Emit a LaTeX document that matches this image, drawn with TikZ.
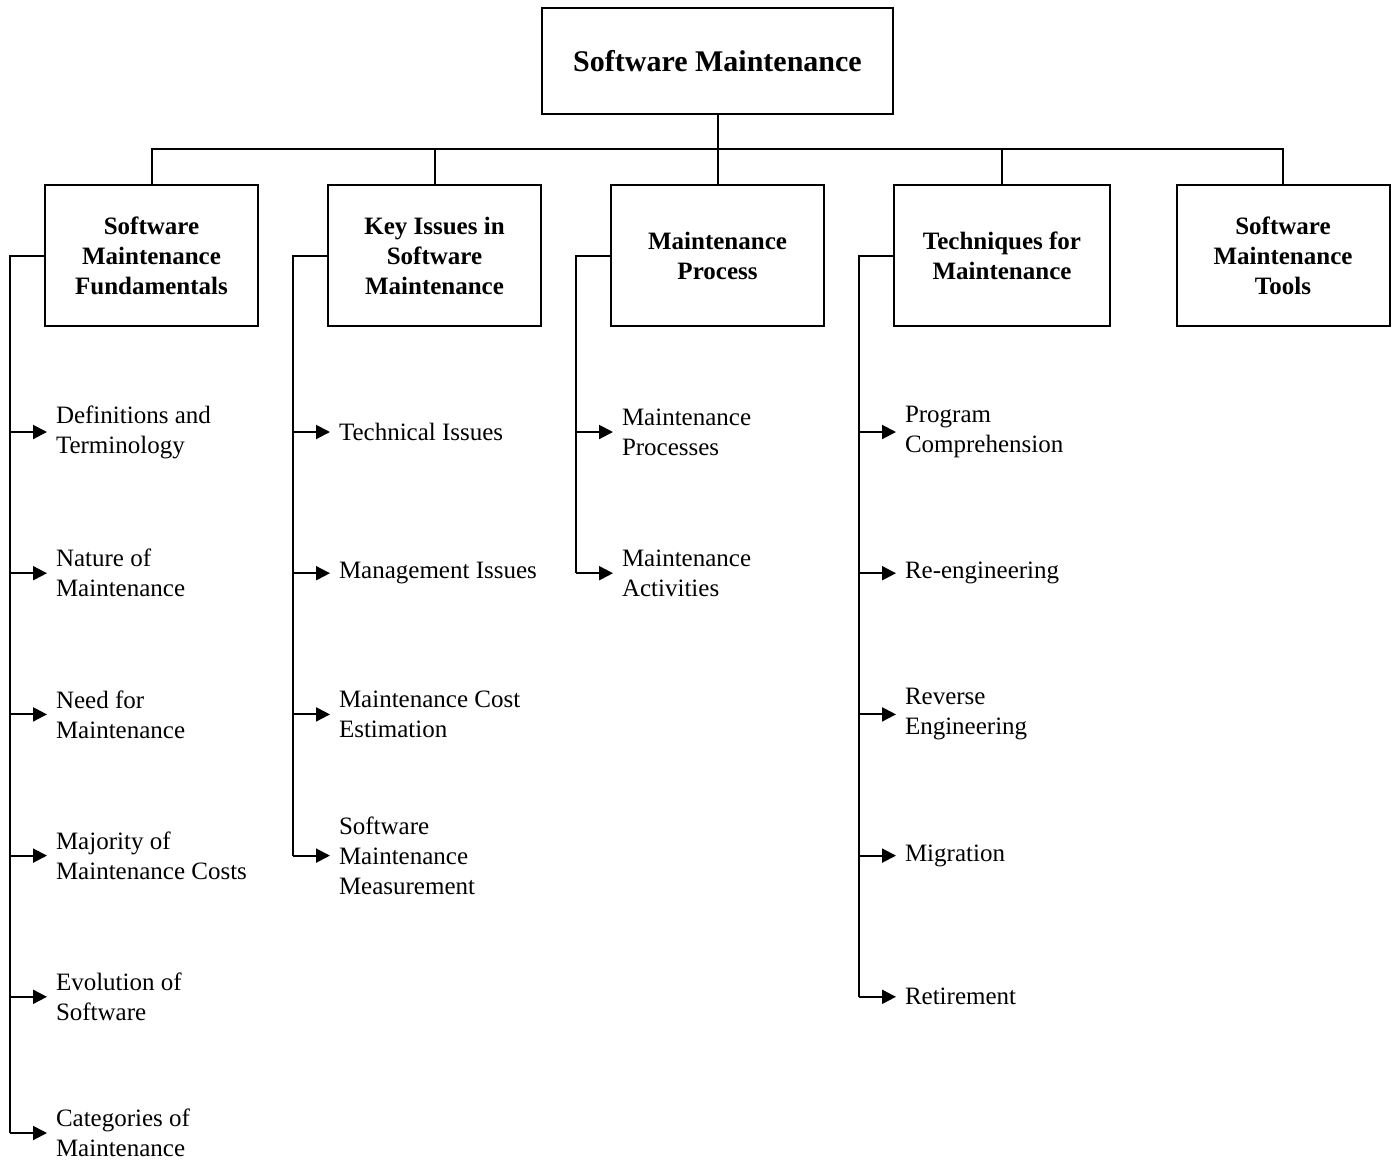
\documentclass[tikz,border=0pt]{standalone}
\usepackage{fontspec}
\setmainfont{Liberation Serif}
\usetikzlibrary{arrows.meta, positioning}

\begin{document}
\begin{tikzpicture}[x=0.5pt, y=-0.5pt, line width=1pt,
    topic/.style={draw, minimum width=106.5pt, minimum height=70.5pt, align=center,
      font=\fontsize{12.5}{15}\selectfont\bfseries},
    item/.style={anchor=west, inner xsep=4pt, inner ysep=0pt, align=left,
      font=\fontsize{12.5}{15}\selectfont},
    arr/.style={-{Triangle[length=7pt, width=7pt]}}]
  \useasboundingbox (0,0) rectangle (1395,1162);

  % Root and the five topics
  \node[topic, minimum width=175.5pt, minimum height=53pt,
    font=\fontsize{15}{18}\selectfont\bfseries] (sm) at (717.5,61) {Software Maintenance};
  \node[topic] (fund) at (151.5,255.5) {Software\\Maintenance\\Fundamentals};
  \node[topic] (key) at (434.5,255.5) {Key Issues in\\Software\\Maintenance};
  \node[topic] (proc) at (717.5,255.5) {Maintenance\\Process};
  \node[topic, minimum width=108pt] (tech) at (1002,255.5) {Techniques for\\Maintenance};
  \node[topic] (tools) at (1283,255.5) {Software\\Maintenance\\Tools};

  % Bus from the root down to the topics
  \coordinate (bus) at (717.5,149);
  \draw (sm.south) -- (bus);
  \draw (fund.north) -- (fund.north |- bus) -- (tools.north |- bus) -- (tools.north);
  \foreach \b in {key, proc, tech}
    \draw (\b.north) -- (\b.north |- bus);

  % Sub-topic items
  \foreach \t [count=\i] in {{Definitions and\\Terminology}, {Nature of\\Maintenance},
      {Need for\\Maintenance}, {Majority of\\Maintenance Costs},
      {Evolution of\\Software}}
    \node[item] (fund\i) at (47, 432+141.2*\i-141.2) {\t};
  \node[item] (fund6) at (47,1133) {Categories of\\Maintenance};
  \foreach \t [count=\i] in {{Technical Issues}, {Management Issues},
      {Maintenance Cost\\Estimation}, {Software\\Maintenance\\Measurement}}
    \node[item] (key\i) at (330, 432+141.2*\i-141.2) {\t};
  \foreach \t [count=\i] in {{Maintenance\\Processes}, {Maintenance\\Activities}}
    \node[item] (proc\i) at (613, 432+141.2*\i-141.2) {\t};
  \foreach \t [count=\i] in {{Program\\Comprehension}, {Re-engineering},
      {Reverse\\Engineering}, {Migration}, {Retirement}}
    \node[item] (tech\i) at (896, 432+141.2*\i-141.2) {\t};

  % Spines and arrows
  \coordinate (fundS) at (10,0);
  \coordinate (keyS) at (293,0);
  \coordinate (procS) at (576,0);
  \coordinate (techS) at (859,0);
  \draw (fund.west) -| (fundS |- fund6.west);
  \draw (key.west) -| (keyS |- key4.west);
  \draw (proc.west) -| (procS |- proc2.west);
  \draw (tech.west) -| (techS |- tech5.west);
  \foreach \i in {1,...,6}
    \draw[arr] (fundS |- fund\i.west) -- (fund\i.west);
  \foreach \i in {1,...,4}
    \draw[arr] (keyS |- key\i.west) -- (key\i.west);
  \foreach \i in {1,2}
    \draw[arr] (procS |- proc\i.west) -- (proc\i.west);
  \foreach \i in {1,...,5}
    \draw[arr] (techS |- tech\i.west) -- (tech\i.west);
\end{tikzpicture}
\end{document}
